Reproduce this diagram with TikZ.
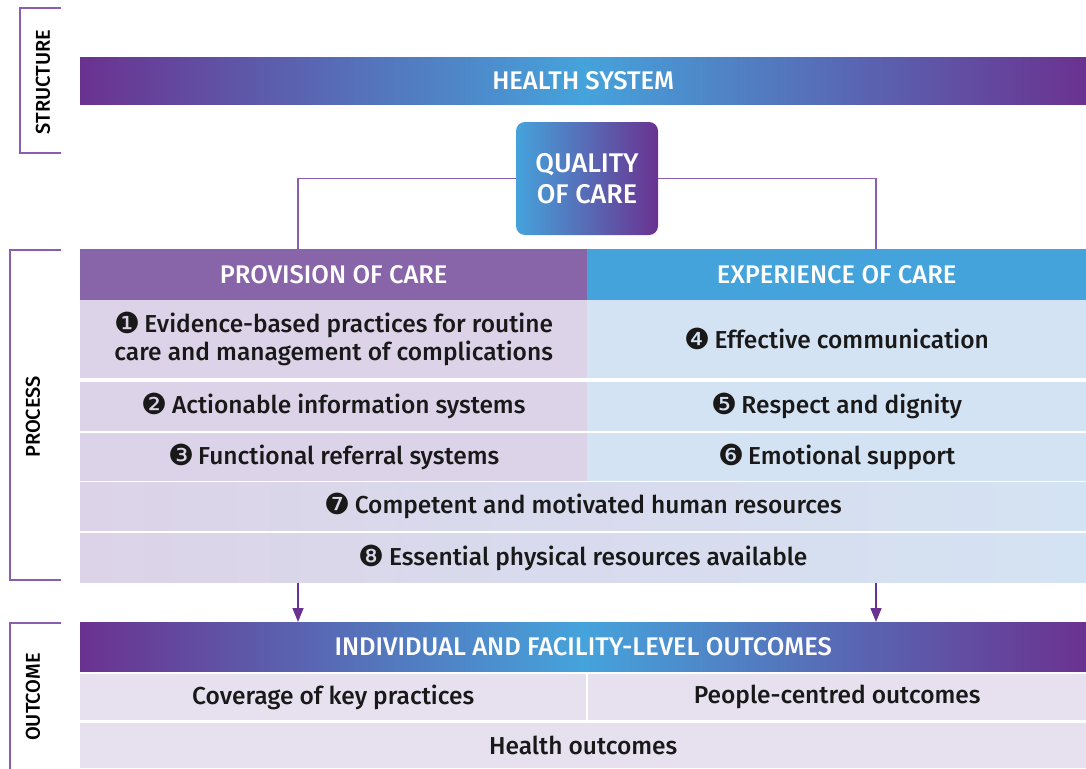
\documentclass[tikz,border=0pt]{standalone}
\usepackage{fontspec}
\setmainfont{Fira Sans Medium}
\newfontfamily\dingfont{DejaVu Sans}
\usetikzlibrary{positioning,arrows.meta}
\definecolor{qpurple}{HTML}{6A3290}
\definecolor{qblue}{HTML}{45A3DB}
\definecolor{provpurple}{HTML}{8864A8}
\definecolor{lilac}{HTML}{DCD3E8}
\definecolor{paleblue}{HTML}{D4E3F3}
\definecolor{outlilac}{HTML}{E6E0EF}
\definecolor{linkpurple}{HTML}{8A5DB0}
\newcommand{\circnum}[1]{{\dingfont\fontsize{29}{29}\selectfont\raisebox{-1pt}{#1}}\,}
\begin{document}
\begin{tikzpicture}[x=1pt,y=-1pt,
		bar/.style={anchor=north west,inner sep=0,text=white,font=\fontsize{25.5}{28}\selectfont},
		cell/.style={anchor=north west,inner sep=0,text=black!90,align=center,font=\fontsize{24.5}{28}\selectfont},
		grad/.style={left color=qpurple,right color=qpurple,middle color=qblue},
		link/.style={draw=linkpurple,line width=1.2pt},
		arr/.style={draw=qpurple,line width=1.5pt,-{Triangle[length=14pt,width=11pt]}},
		side/.style={rotate=90,font=\fontsize{20}{22}\selectfont}]
	\useasboundingbox (0,0) rectangle (1086,768);
	% structure
	\draw[link] (61,8) -- (20,8) -- (20,153) -- (61,153);
	\node[side] (structure) at (43,82) {STRUCTURE};
	\node[bar,grad,minimum width=1006pt,minimum height=47pt] (hs) at (80,57) {HEALTH SYSTEM};
	\node[anchor=center,inner sep=0,text=white,rounded corners=9pt,left color=qblue,right color=qpurple,
		minimum width=142pt,minimum height=113pt,align=center,font=\fontsize{27}{31}\selectfont] (qoc) at (587,178.5) {QUALITY\\OF CARE};
	% process
	\draw[link] (61,250) -- (10,250) -- (10,580) -- (61,580);
	\node[side] (process) at (33,417) {PROCESS};
	\node[bar,fill=provpurple,minimum width=507pt,minimum height=51pt] (prov) at (80,249) {PROVISION OF CARE};
	\node[bar,fill=qblue,minimum width=499pt,minimum height=51pt] (exp) at (587,249) {EXPERIENCE OF CARE};
	\coordinate (lft) at (298,249);
	\coordinate (rgt) at (876,249);
	\draw[link] (qoc.west) -| (lft);
	\draw[link] (qoc.east) -| (rgt);
	\node[cell,fill=lilac,minimum width=507pt,minimum height=78pt] (evid) at (80,300)
		{\circnum{❶}Evidence-based practices for routine\\care and management of complications};
	\node[cell,fill=paleblue,minimum width=499pt,minimum height=78pt] (comm) at (587,300)
		{\circnum{❹}Effective communication};
	\node[cell,fill=lilac,minimum width=507pt,minimum height=49pt,below=3pt of evid] (info)
		{\circnum{❷}Actionable information systems};
	\node[cell,fill=paleblue,minimum width=499pt,minimum height=49pt,below=3pt of comm] (resp)
		{\circnum{❺}Respect and dignity};
	\node[cell,fill=lilac,minimum width=507pt,minimum height=48pt,below=2pt of info] (refer)
		{\circnum{❸}Functional referral systems};
	\node[cell,fill=paleblue,minimum width=499pt,minimum height=48pt,below=2pt of resp] (emot)
		{\circnum{❻}Emotional support};
	\node[cell,left color=lilac,right color=paleblue,minimum width=1006pt,minimum height=48pt] (human) at (80,482)
		{\circnum{❼}Competent and motivated human resources};
	\node[cell,left color=lilac,right color=paleblue,minimum width=1006pt,minimum height=49pt,below=3pt of human] (phys)
		{\circnum{❽}Essential physical resources available};
	% outcome
	\draw[link] (61,623) -- (10,623) -- (10,770);
	\node[side] (outcome) at (33,697) {OUTCOME};
	\node[bar,grad,minimum width=1006pt,minimum height=49pt] (ifo) at (80,622) {INDIVIDUAL AND FACILITY-LEVEL OUTCOMES};
	\draw[arr] (phys.south -| lft) -- (ifo.north -| lft);
	\draw[arr] (phys.south -| rgt) -- (ifo.north -| rgt);
	\node[cell,fill=outlilac,minimum width=506pt,minimum height=46pt] (cover) at (80,674) {Coverage of key practices};
	\node[cell,fill=outlilac,minimum width=498pt,minimum height=46pt] (people) at (588,674) {People-centred outcomes};
	\node[cell,fill=outlilac,minimum width=1006pt,minimum height=45pt] (health) at (80,723) {Health outcomes};
\end{tikzpicture}
\end{document}
